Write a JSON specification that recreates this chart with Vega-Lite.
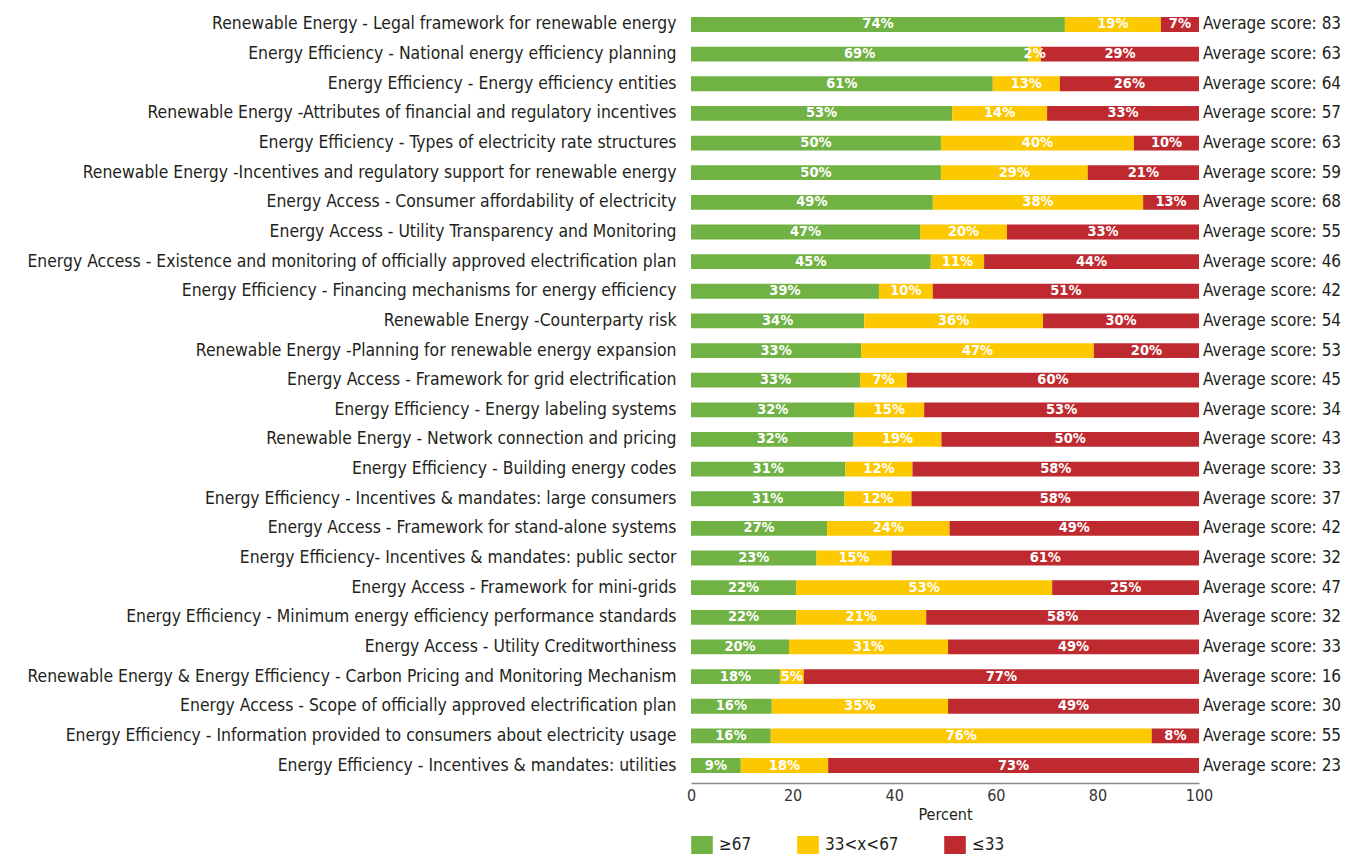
{
  "$schema": "https://vega.github.io/schema/vega-lite/v6.json",
  "autosize": {"type": "none"},
  "padding": {"left": 691, "top": 7, "right": 146, "bottom": 72},
  "width": 508,
  "height": 776,
  "background": "white",
  "config": {"view": {"stroke": null}, "font": "DejaVu Sans Condensed, Liberation Sans Narrow, sans-serif"},
  "datasets": {
    "shares": [
      {"item": "Renewable Energy - Legal framework for renewable energy", "level": "≥67", "value": 73.6, "label": "74%"},
      {"item": "Renewable Energy - Legal framework for renewable energy", "level": "33<x<67", "value": 18.9, "label": "19%"},
      {"item": "Renewable Energy - Legal framework for renewable energy", "level": "≤33", "value": 7.5, "label": "7%"},
      {"item": "Energy Efficiency - National energy efficiency planning", "level": "≥67", "value": 66.4, "label": "69%"},
      {"item": "Energy Efficiency - National energy efficiency planning", "level": "33<x<67", "value": 2.5, "label": "2%"},
      {"item": "Energy Efficiency - National energy efficiency planning", "level": "≤33", "value": 31.1, "label": "29%"},
      {"item": "Energy Efficiency - Energy efficiency entities", "level": "≥67", "value": 59.4, "label": "61%"},
      {"item": "Energy Efficiency - Energy efficiency entities", "level": "33<x<67", "value": 13.2, "label": "13%"},
      {"item": "Energy Efficiency - Energy efficiency entities", "level": "≤33", "value": 27.4, "label": "26%"},
      {"item": "Renewable Energy -Attributes of financial and regulatory incentives", "level": "≥67", "value": 51.4, "label": "53%"},
      {"item": "Renewable Energy -Attributes of financial and regulatory incentives", "level": "33<x<67", "value": 18.7, "label": "14%"},
      {"item": "Renewable Energy -Attributes of financial and regulatory incentives", "level": "≤33", "value": 29.9, "label": "33%"},
      {"item": "Energy Efficiency - Types of electricity rate structures", "level": "≥67", "value": 49.2, "label": "50%"},
      {"item": "Energy Efficiency - Types of electricity rate structures", "level": "33<x<67", "value": 38.0, "label": "40%"},
      {"item": "Energy Efficiency - Types of electricity rate structures", "level": "≤33", "value": 12.8, "label": "10%"},
      {"item": "Renewable Energy -Incentives and regulatory support for renewable energy", "level": "≥67", "value": 49.2, "label": "50%"},
      {"item": "Renewable Energy -Incentives and regulatory support for renewable energy", "level": "33<x<67", "value": 28.9, "label": "29%"},
      {"item": "Renewable Energy -Incentives and regulatory support for renewable energy", "level": "≤33", "value": 21.9, "label": "21%"},
      {"item": "Energy Access - Consumer affordability of electricity", "level": "≥67", "value": 47.6, "label": "49%"},
      {"item": "Energy Access - Consumer affordability of electricity", "level": "33<x<67", "value": 41.4, "label": "38%"},
      {"item": "Energy Access - Consumer affordability of electricity", "level": "≤33", "value": 11.0, "label": "13%"},
      {"item": "Energy Access - Utility Transparency and Monitoring", "level": "≥67", "value": 45.1, "label": "47%"},
      {"item": "Energy Access - Utility Transparency and Monitoring", "level": "33<x<67", "value": 17.1, "label": "20%"},
      {"item": "Energy Access - Utility Transparency and Monitoring", "level": "≤33", "value": 37.8, "label": "33%"},
      {"item": "Energy Access - Existence and monitoring of officially approved electrification plan", "level": "≥67", "value": 47.2, "label": "45%"},
      {"item": "Energy Access - Existence and monitoring of officially approved electrification plan", "level": "33<x<67", "value": 10.5, "label": "11%"},
      {"item": "Energy Access - Existence and monitoring of officially approved electrification plan", "level": "≤33", "value": 42.3, "label": "44%"},
      {"item": "Energy Efficiency - Financing mechanisms for energy efficiency", "level": "≥67", "value": 37.0, "label": "39%"},
      {"item": "Energy Efficiency - Financing mechanisms for energy efficiency", "level": "33<x<67", "value": 10.6, "label": "10%"},
      {"item": "Energy Efficiency - Financing mechanisms for energy efficiency", "level": "≤33", "value": 52.4, "label": "51%"},
      {"item": "Renewable Energy -Counterparty risk", "level": "≥67", "value": 34.1, "label": "34%"},
      {"item": "Renewable Energy -Counterparty risk", "level": "33<x<67", "value": 35.2, "label": "36%"},
      {"item": "Renewable Energy -Counterparty risk", "level": "≤33", "value": 30.7, "label": "30%"},
      {"item": "Renewable Energy -Planning for renewable energy expansion", "level": "≥67", "value": 33.5, "label": "33%"},
      {"item": "Renewable Energy -Planning for renewable energy expansion", "level": "33<x<67", "value": 45.8, "label": "47%"},
      {"item": "Renewable Energy -Planning for renewable energy expansion", "level": "≤33", "value": 20.7, "label": "20%"},
      {"item": "Energy Access - Framework for grid electrification", "level": "≥67", "value": 33.3, "label": "33%"},
      {"item": "Energy Access - Framework for grid electrification", "level": "33<x<67", "value": 9.2, "label": "7%"},
      {"item": "Energy Access - Framework for grid electrification", "level": "≤33", "value": 57.5, "label": "60%"},
      {"item": "Energy Efficiency - Energy labeling systems", "level": "≥67", "value": 32.2, "label": "32%"},
      {"item": "Energy Efficiency - Energy labeling systems", "level": "33<x<67", "value": 13.7, "label": "15%"},
      {"item": "Energy Efficiency - Energy labeling systems", "level": "≤33", "value": 54.1, "label": "53%"},
      {"item": "Renewable Energy - Network connection and pricing", "level": "≥67", "value": 32.0, "label": "32%"},
      {"item": "Renewable Energy - Network connection and pricing", "level": "33<x<67", "value": 17.3, "label": "19%"},
      {"item": "Renewable Energy - Network connection and pricing", "level": "≤33", "value": 50.7, "label": "50%"},
      {"item": "Energy Efficiency - Building energy codes", "level": "≥67", "value": 30.4, "label": "31%"},
      {"item": "Energy Efficiency - Building energy codes", "level": "33<x<67", "value": 13.2, "label": "12%"},
      {"item": "Energy Efficiency - Building energy codes", "level": "≤33", "value": 56.4, "label": "58%"},
      {"item": "Energy Efficiency - Incentives & mandates: large consumers", "level": "≥67", "value": 30.2, "label": "31%"},
      {"item": "Energy Efficiency - Incentives & mandates: large consumers", "level": "33<x<67", "value": 13.2, "label": "12%"},
      {"item": "Energy Efficiency - Incentives & mandates: large consumers", "level": "≤33", "value": 56.6, "label": "58%"},
      {"item": "Energy Access - Framework for stand-alone systems", "level": "≥67", "value": 26.8, "label": "27%"},
      {"item": "Energy Access - Framework for stand-alone systems", "level": "33<x<67", "value": 24.1, "label": "24%"},
      {"item": "Energy Access - Framework for stand-alone systems", "level": "≤33", "value": 49.1, "label": "49%"},
      {"item": "Energy Efficiency- Incentives & mandates: public sector", "level": "≥67", "value": 24.7, "label": "23%"},
      {"item": "Energy Efficiency- Incentives & mandates: public sector", "level": "33<x<67", "value": 14.8, "label": "15%"},
      {"item": "Energy Efficiency- Incentives & mandates: public sector", "level": "≤33", "value": 60.5, "label": "61%"},
      {"item": "Energy Access -  Framework for mini-grids", "level": "≥67", "value": 20.7, "label": "22%"},
      {"item": "Energy Access -  Framework for mini-grids", "level": "33<x<67", "value": 50.4, "label": "53%"},
      {"item": "Energy Access -  Framework for mini-grids", "level": "≤33", "value": 28.9, "label": "25%"},
      {"item": "Energy Efficiency - Minimum energy efficiency performance standards", "level": "≥67", "value": 20.7, "label": "22%"},
      {"item": "Energy Efficiency - Minimum energy efficiency performance standards", "level": "33<x<67", "value": 25.6, "label": "21%"},
      {"item": "Energy Efficiency - Minimum energy efficiency performance standards", "level": "≤33", "value": 53.7, "label": "58%"},
      {"item": "Energy Access - Utility Creditworthiness", "level": "≥67", "value": 19.3, "label": "20%"},
      {"item": "Energy Access - Utility Creditworthiness", "level": "33<x<67", "value": 31.3, "label": "31%"},
      {"item": "Energy Access - Utility Creditworthiness", "level": "≤33", "value": 49.4, "label": "49%"},
      {"item": "Renewable Energy & Energy Efficiency - Carbon Pricing and Monitoring Mechanism", "level": "≥67", "value": 17.5, "label": "18%"},
      {"item": "Renewable Energy & Energy Efficiency - Carbon Pricing and Monitoring Mechanism", "level": "33<x<67", "value": 4.7, "label": "5%"},
      {"item": "Renewable Energy & Energy Efficiency - Carbon Pricing and Monitoring Mechanism", "level": "≤33", "value": 77.8, "label": "77%"},
      {"item": "Energy Access - Scope of officially approved electrification plan", "level": "≥67", "value": 15.9, "label": "16%"},
      {"item": "Energy Access - Scope of officially approved electrification plan", "level": "33<x<67", "value": 34.7, "label": "35%"},
      {"item": "Energy Access - Scope of officially approved electrification plan", "level": "≤33", "value": 49.4, "label": "49%"},
      {"item": "Energy Efficiency - Information provided to consumers about electricity usage", "level": "≥67", "value": 15.7, "label": "16%"},
      {"item": "Energy Efficiency - Information provided to consumers about electricity usage", "level": "33<x<67", "value": 75.0, "label": "76%"},
      {"item": "Energy Efficiency - Information provided to consumers about electricity usage", "level": "≤33", "value": 9.3, "label": "8%"},
      {"item": "Energy Efficiency - Incentives & mandates: utilities", "level": "≥67", "value": 9.8, "label": "9%"},
      {"item": "Energy Efficiency - Incentives & mandates: utilities", "level": "33<x<67", "value": 17.2, "label": "18%"},
      {"item": "Energy Efficiency - Incentives & mandates: utilities", "level": "≤33", "value": 73.0, "label": "73%"}
    ],
    "scores": [
      {"item": "Renewable Energy - Legal framework for renewable energy", "score": 83},
      {"item": "Energy Efficiency - National energy efficiency planning", "score": 63},
      {"item": "Energy Efficiency - Energy efficiency entities", "score": 64},
      {"item": "Renewable Energy -Attributes of financial and regulatory incentives", "score": 57},
      {"item": "Energy Efficiency - Types of electricity rate structures", "score": 63},
      {"item": "Renewable Energy -Incentives and regulatory support for renewable energy", "score": 59},
      {"item": "Energy Access - Consumer affordability of electricity", "score": 68},
      {"item": "Energy Access - Utility Transparency and Monitoring", "score": 55},
      {"item": "Energy Access - Existence and monitoring of officially approved electrification plan", "score": 46},
      {"item": "Energy Efficiency - Financing mechanisms for energy efficiency", "score": 42},
      {"item": "Renewable Energy -Counterparty risk", "score": 54},
      {"item": "Renewable Energy -Planning for renewable energy expansion", "score": 53},
      {"item": "Energy Access - Framework for grid electrification", "score": 45},
      {"item": "Energy Efficiency - Energy labeling systems", "score": 34},
      {"item": "Renewable Energy - Network connection and pricing", "score": 43},
      {"item": "Energy Efficiency - Building energy codes", "score": 33},
      {"item": "Energy Efficiency - Incentives & mandates: large consumers", "score": 37},
      {"item": "Energy Access - Framework for stand-alone systems", "score": 42},
      {"item": "Energy Efficiency- Incentives & mandates: public sector", "score": 32},
      {"item": "Energy Access -  Framework for mini-grids", "score": 47},
      {"item": "Energy Efficiency - Minimum energy efficiency performance standards", "score": 32},
      {"item": "Energy Access - Utility Creditworthiness", "score": 33},
      {"item": "Renewable Energy & Energy Efficiency - Carbon Pricing and Monitoring Mechanism", "score": 16},
      {"item": "Energy Access - Scope of officially approved electrification plan", "score": 30},
      {"item": "Energy Efficiency - Information provided to consumers about electricity usage", "score": 55},
      {"item": "Energy Efficiency - Incentives & mandates: utilities", "score": 23}
    ]
  },
  "layer": [
    {
      "data": {"name": "shares"},
      "transform": [
        {"calculate": "indexof(['≥67','33<x<67','≤33'], datum.level)", "as": "ord"},
        {"stack": "value", "groupby": ["item"], "sort": [{"field": "ord", "order": "ascending"}], "as": ["v0", "v1"]},
        {"calculate": "(datum.v0 + datum.v1) / 2", "as": "mid"}
      ],
      "layer": [
        {
          "mark": {"type": "bar"},
          "encoding": {
            "y": {
              "field": "item", "type": "nominal", "sort": null,
              "scale": {"paddingInner": 0.5, "paddingOuter": 0.34},
              "axis": {"title": null, "ticks": false, "domain": false, "labelFontSize": 17.4, "labelLimit": 700, "labelPadding": 15, "labelColor": "#231F20"}
            },
            "x": {
              "field": "v0", "type": "quantitative",
              "scale": {"domain": [0, 100], "nice": false},
              "axis": {"title": "Percent", "values": [0, 20, 40, 60, 80, 100], "grid": false, "ticks": false, "labelFlush": false, "domainColor": "#8a8a8a", "domainWidth": 1.5, "labelFontSize": 16, "labelColor": "#333333", "labelPadding": 4, "titleFontSize": 16, "titleFontWeight": "normal", "titleColor": "#231F20", "titlePadding": 3}
            },
            "x2": {"field": "v1"},
            "color": {
              "field": "level", "type": "nominal",
              "scale": {"domain": ["≥67", "33<x<67", "≤33"], "range": ["#70B244", "#FCC800", "#BE2A2F"]},
              "legend": {"title": null, "orient": "none", "legendX": 2, "legendY": 829, "direction": "horizontal", "symbolType": "M-1.2,-1L1.2,-1L1.2,1L-1.2,1Z", "symbolSize": 324, "symbolStrokeWidth": 0, "symbolOpacity": 1, "labelFontSize": 17, "labelOffset": 8, "labelColor": "#231F20", "columnPadding": 45, "padding": 0}
            }
          }
        },
        {
          "mark": {"type": "text", "color": "white", "fontWeight": "bold", "fontSize": 14.5, "baseline": "middle", "align": "center"},
          "encoding": {
            "y": {"field": "item", "type": "nominal", "sort": null},
            "x": {"field": "mid", "type": "quantitative"},
            "text": {"field": "label"}
          }
        }
      ]
    },
    {
      "data": {"name": "scores"},
      "transform": [{"calculate": "'Average score: ' + datum.score", "as": "txt"}],
      "mark": {"type": "text", "align": "left", "baseline": "middle", "dx": 4, "fontSize": 17, "color": "#231F20"},
      "encoding": {
        "y": {"field": "item", "type": "nominal", "sort": null},
        "x": {"datum": 100, "type": "quantitative"},
        "text": {"field": "txt"}
      }
    }
  ]
}
